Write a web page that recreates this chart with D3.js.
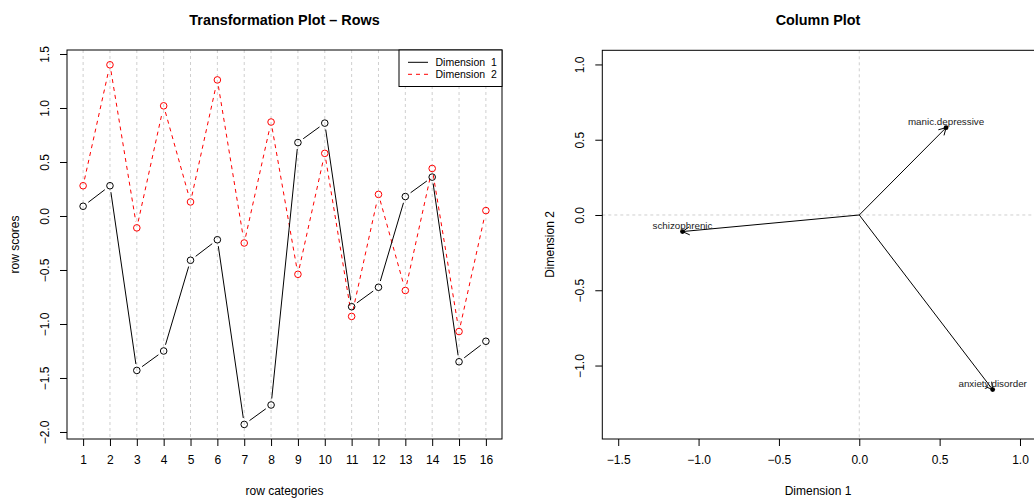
<!DOCTYPE html>
<html>
<head>
<meta charset="utf-8">
<script src="https://cdn.jsdelivr.net/npm/d3@7"></script>
<style>
  body { margin: 0; background: #fff; }
  svg { font-family: "Liberation Sans", Arial, Helvetica, sans-serif; }
</style>
</head>
<body>
<svg id="chart" width="1034" height="499"></svg>
<script>
// row plot data
var rowCats = [1, 2, 3, 4, 5, 6, 7, 8, 9, 10, 11, 12, 13, 14, 15, 16];
var rowDim1 = [0.09, 0.28, -1.43, -1.25, -0.41, -0.22, -1.93, -1.75, 0.68, 0.86, -0.84, -0.66, 0.18, 0.36, -1.35, -1.16];
var rowDim2 = [0.28, 1.40, -0.11, 1.02, 0.13, 1.26, -0.25, 0.87, -0.54, 0.58, -0.93, 0.20, -0.69, 0.44, -1.07, 0.05];
var rowYTicks = [1.5, 1.0, 0.5, 0.0, -0.5, -1.0, -1.5, -2.0];

// column plot data
var colNames = ["schizophrenic", "manic.depressive", "anxiety.disorder"];
var colDim1 = [-1.10, 0.54, 0.83];
var colDim2 = [-0.11, 0.58, -1.16];
var colXTicks = [-1.5, -1.0, -0.5, 0.0, 0.5, 1.0];
var colYTicks = [1.0, 0.5, 0.0, -0.5, -1.0];

var legendLabels = ["Dimension  1", "Dimension  2"];

var svg = d3.select("#chart");
var fmt = d3.format(".1f");
var gridCol = "#cfcfcf";

// R style axes: ticks outward, rotated y labels
function bottomAxis(g, x, y0, ticks, labels) {
  var ax = g.append("g").attr("transform", "translate(0," + y0 + ")")
    .call(d3.axisBottom(x).tickValues(ticks).tickSize(7).tickPadding(9)
      .tickFormat(labels));
  ax.select(".domain").remove();
  ax.selectAll("text").attr("font-size", 12).attr("fill", "#000").attr("font-family", null);
  ax.selectAll("line").attr("stroke", "#000");
}
function leftAxis(g, y, x0, ticks) {
  var ax = g.append("g").attr("transform", "translate(" + x0 + ",0)")
    .call(d3.axisLeft(y).tickValues(ticks).tickSize(7).tickFormat(fmt));
  ax.select(".domain").remove();
  ax.selectAll("line").attr("stroke", "#000");
  ax.selectAll("text")
    .attr("font-size", 12).attr("fill", "#000").attr("font-family", null)
    .attr("transform", "rotate(-90)")
    .attr("x", 0).attr("y", -18).attr("dy", null)
    .attr("text-anchor", "middle");
}

// ---------- left: Transformation Plot - Rows ----------
var x1 = d3.scaleLinear().domain([0.4, 16.6]).range([67, 502]);
var y1 = d3.scaleLinear().domain([-2.065, 1.537]).range([439, 50]);
var left = svg.append("g");

// vertical grid
left.selectAll(".vg").data(rowCats).enter().append("line")
  .attr("x1", function(d){ return x1(d); }).attr("x2", function(d){ return x1(d); })
  .attr("y1", y1.range()[1]).attr("y2", y1.range()[0])
  .attr("stroke", gridCol).attr("stroke-dasharray", "3,3");

// lines with gaps near points (type = "b")
function gappedLine(g, vals, color, dash) {
  var gap = 6.5;
  for (var i = 0; i < vals.length - 1; i++) {
    var ax = x1(rowCats[i]), ay = y1(vals[i]);
    var bx = x1(rowCats[i + 1]), by = y1(vals[i + 1]);
    var len = Math.hypot(bx - ax, by - ay);
    if (len < 2 * gap) continue;
    var ux = (bx - ax) / len, uy = (by - ay) / len;
    g.append("line")
      .attr("x1", ax + ux * gap).attr("y1", ay + uy * gap)
      .attr("x2", bx - ux * gap).attr("y2", by - uy * gap)
      .attr("stroke", color).attr("stroke-width", 1)
      .attr("stroke-dasharray", dash);
  }
  g.selectAll(null).data(vals).enter().append("circle")
    .attr("cx", function(d, i){ return x1(rowCats[i]); })
    .attr("cy", function(d){ return y1(d); })
    .attr("r", 3.3)
    .attr("fill", "none").attr("stroke", color).attr("stroke-width", 1);
}
gappedLine(left.append("g"), rowDim2, "#ff0000", "4,4");
gappedLine(left.append("g"), rowDim1, "#000", null);

left.append("rect").attr("x", 67).attr("y", 50).attr("width", 435).attr("height", 389)
  .attr("fill", "none").attr("stroke", "#000");

bottomAxis(left, x1, 439, rowCats, d3.format("d"));
leftAxis(left, y1, 67, rowYTicks);

left.append("text").attr("x", 284.5).attr("y", 25).attr("text-anchor", "middle")
  .attr("font-size", 14.4).attr("font-weight", "bold").text("Transformation Plot \u2013 Rows");
left.append("text").attr("x", 284.5).attr("y", 495).attr("text-anchor", "middle")
  .attr("font-size", 12).text("row categories");
left.append("text").attr("transform", "translate(19,244.5) rotate(-90)")
  .attr("text-anchor", "middle").attr("font-size", 12).text("row scores");

// legend
var lg = left.append("g");
lg.append("rect").attr("x", 399).attr("y", 50).attr("width", 103).attr("height", 36.5)
  .attr("fill", "#fff").attr("stroke", "#000");
var legCols = ["#000", "#ff0000"], legDash = [null, "4,4"];
legendLabels.forEach(function(t, i) {
  var yy = 62.3 + i * 12;
  lg.append("line").attr("x1", 408).attr("x2", 428).attr("y1", yy).attr("y2", yy)
    .attr("stroke", legCols[i]).attr("stroke-dasharray", legDash[i]);
  lg.append("text").attr("x", 435.5).attr("y", yy + 3.6).attr("font-size", 10.5)
    .attr("xml:space", "preserve").style("white-space", "pre").text(t);
});

// ---------- right: Column Plot ----------
// plot region runs just past the window's right edge
var x2 = d3.scaleLinear().domain([-1.599, 1.0996]).range([602.3, 1036]);
var y2 = d3.scaleLinear().domain([-1.488, 1.094]).range([439, 50.3]);
var right = svg.append("g");

right.append("line").attr("x1", x2(0)).attr("x2", x2(0)).attr("y1", 50.3).attr("y2", 439)
  .attr("stroke", gridCol).attr("stroke-dasharray", "3,3");
right.append("line").attr("x1", 602.3).attr("x2", 1036).attr("y1", y2(0)).attr("y2", y2(0))
  .attr("stroke", gridCol).attr("stroke-dasharray", "3,3");

colNames.forEach(function(n, i) {
  var ox = x2(0), oy = y2(0), px = x2(colDim1[i]), py = y2(colDim2[i]);
  right.append("line").attr("x1", ox).attr("y1", oy).attr("x2", px).attr("y2", py)
    .attr("stroke", "#000");
  var ang = Math.atan2(py - oy, px - ox), hl = 8, ha = Math.PI / 6;
  [ang + Math.PI - ha, ang + Math.PI + ha].forEach(function(a) {
    right.append("line").attr("x1", px).attr("y1", py)
      .attr("x2", px + hl * Math.cos(a)).attr("y2", py + hl * Math.sin(a))
      .attr("stroke", "#000");
  });
  right.append("circle").attr("cx", px).attr("cy", py).attr("r", 2.4).attr("fill", "#000");
  right.append("text").attr("x", px).attr("y", py - 3).attr("text-anchor", "middle")
    .attr("font-size", 9.8).attr("fill", "#222").text(n);
});

right.append("rect").attr("x", 602.3).attr("y", 50.3).attr("width", 433.7).attr("height", 388.7)
  .attr("fill", "none").attr("stroke", "#000");

bottomAxis(right, x2, 439, colXTicks, fmt);
leftAxis(right, y2, 602.3, colYTicks);

right.append("text").attr("x", 818).attr("y", 25).attr("text-anchor", "middle")
  .attr("font-size", 14.4).attr("font-weight", "bold").text("Column Plot");
right.append("text").attr("x", 818).attr("y", 495).attr("text-anchor", "middle")
  .attr("font-size", 12).text("Dimension 1");
right.append("text").attr("transform", "translate(554,244.5) rotate(-90)")
  .attr("text-anchor", "middle").attr("font-size", 12).text("Dimension 2");
</script>
</body>
</html>
